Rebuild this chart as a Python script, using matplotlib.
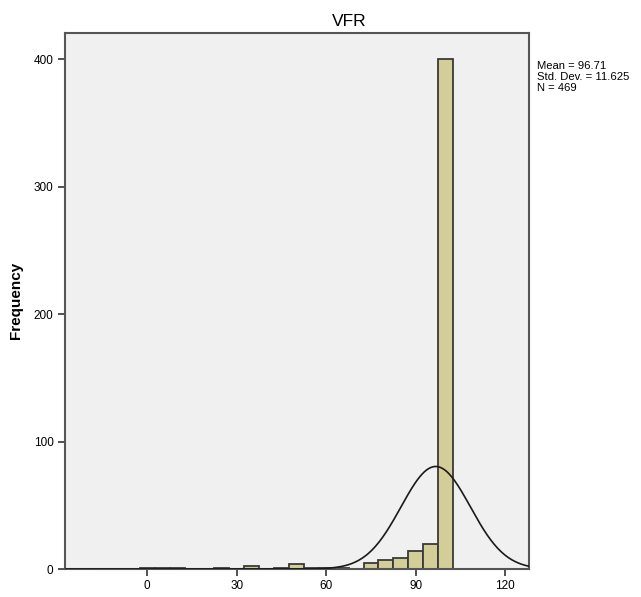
import matplotlib
matplotlib.use("Agg")
import matplotlib.pyplot as plt
import numpy as np

# histogram bins (centres, width 5) and counts
bin_centres = [0, 5, 10, 25, 35, 45, 50, 55, 60, 65, 75, 80, 85, 90, 95, 100]
counts = [1, 1, 1, 1, 2, 1, 4, 1, 1, 1, 5, 7, 9, 14, 20, 400]
bin_width = 5

mean = 96.71
std = 11.625
n = 469

x_ticks = [0, 30, 60, 90, 120]
y_ticks = [0, 100, 200, 300, 400]

plt.rcParams['font.family'] = ['Liberation Sans', 'DejaVu Sans']

fig = plt.figure(figsize=(6.41, 5.97), dpi=100)
ax = fig.add_axes([0.1009, 0.0469, 0.7244, 0.8983])
ax.set_facecolor('#f0f0f0')

ax.bar(bin_centres, counts, width=bin_width, color='#d3ce97',
       edgecolor='#3a3a3a', linewidth=1.3, zorder=2)

# normal curve scaled to the histogram
xs = np.linspace(-27.7, 128, 400)
ys = n * bin_width * np.exp(-0.5 * ((xs - mean) / std) ** 2) / (std * np.sqrt(2 * np.pi))
ax.plot(xs, ys, color='#1a1a1a', lw=1.2, zorder=3)

ax.set_xlim(-27.7, 128)
ax.set_ylim(0, 421)
ax.set_xticks(x_ticks)
ax.set_yticks(y_ticks)
ax.tick_params(labelsize=8.5, length=5, width=1.2, color='#333333', pad=3)
for s in ax.spines.values():
    s.set_color('#555555')
    s.set_linewidth(1.5)

ax.set_ylabel('Frequency', fontsize=11, fontweight='bold', labelpad=8)
fig.text(349 / 641, 1 - 22 / 597, 'VFR', fontsize=12.5, ha='center', va='center')
fig.text(537 / 641, 1 - 61 / 597,
         'Mean = %.2f\nStd. Dev. = %.3f\nN = %d' % (mean, std, n),
         fontsize=8.1, va='top', ha='left', linespacing=1.1)

fig.savefig('out.png', dpi=100)
